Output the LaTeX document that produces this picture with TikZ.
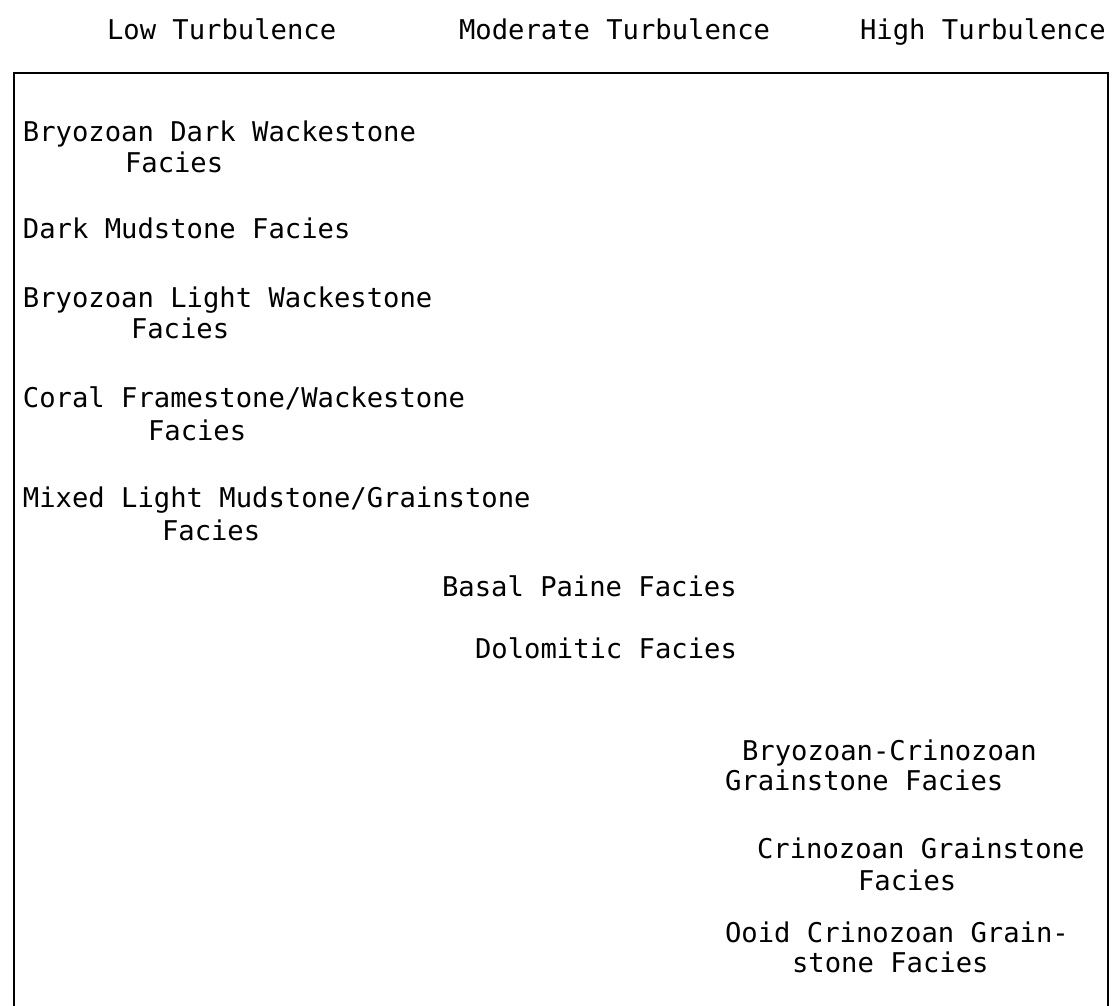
\documentclass[tikz,border=0pt]{standalone}
\usepackage{fontspec}
\setmonofont{DejaVu Sans Mono}
\begin{document}
\begin{tikzpicture}[x=1pt,y=-1pt,
  lbl/.style={anchor=base west,inner sep=0pt,outer sep=0pt,font=\fontsize{27.2pt}{31pt}\selectfont\ttfamily},
  frame/.style={line width=2.5pt,line join=miter}]
\useasboundingbox (0,0) rectangle (1114,1006);
% header
\node[lbl] (low) at (107,40) {Low Turbulence};
\node[lbl] (mod) at (459,40) {Moderate Turbulence};
\node[lbl] (high) at (860,40) {High Turbulence};
% frame (open at bottom)
\draw[frame] (14,1006) -- (14,73) -- (1108,73) -- (1108,1006);
% low turbulence facies
\node[lbl] (bdw1) at (23,142) {Bryozoan Dark Wackestone};
\node[lbl] (bdw2) at (125,172) {Facies};
\node[lbl] (dmf) at (23,238) {Dark Mudstone Facies};
\node[lbl] (blw1) at (23,307) {Bryozoan Light Wackestone};
\node[lbl] (blw2) at (131,338) {Facies};
\node[lbl] (cfw1) at (23,407) {Coral Framestone/Wackestone};
\node[lbl] (cfw2) at (148,440) {Facies};
\node[lbl] (mlm1) at (23,507) {Mixed Light Mudstone/Grainstone};
\node[lbl] (mlm2) at (162,540) {Facies};
% moderate turbulence facies
\node[lbl] (bpf) at (442,596) {Basal Paine Facies};
\node[lbl] (dol) at (475,658) {Dolomitic Facies};
% high turbulence facies
\node[lbl] (bcg1) at (742,760) {Bryozoan-Crinozoan};
\node[lbl] (bcg2) at (725,790) {Grainstone Facies};
\node[lbl] (cg1) at (757,858) {Crinozoan Grainstone};
\node[lbl] (cg2) at (858,890) {Facies};
\node[lbl] (ocg1) at (725,942) {Ooid Crinozoan Grain-};
\node[lbl] (ocg2) at (792,972) {stone Facies};
\end{tikzpicture}
\end{document}
